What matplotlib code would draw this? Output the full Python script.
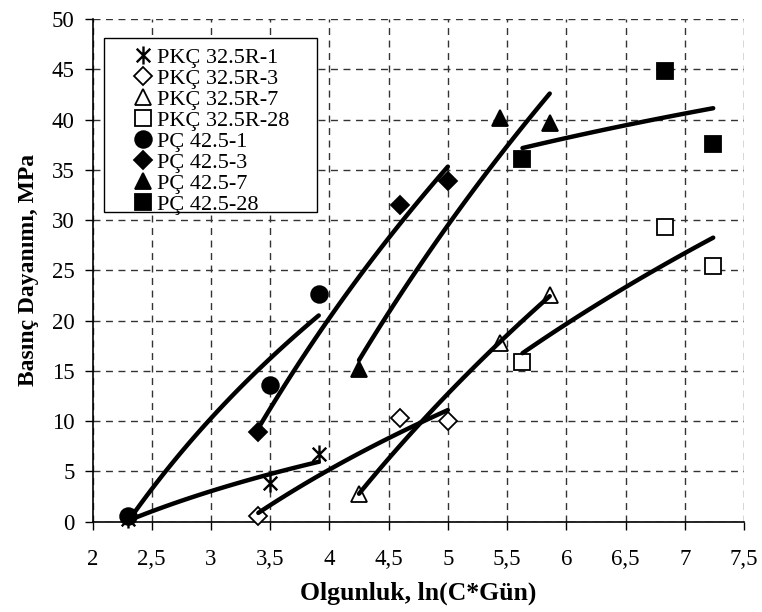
import numpy as np
import matplotlib
matplotlib.use("Agg")
import matplotlib.pyplot as plt
from matplotlib.ticker import FixedLocator, FuncFormatter
from matplotlib.patches import Rectangle
from matplotlib.path import Path

plt.rcParams['font.family'] = ['Liberation Serif', 'DejaVu Serif']

labels = ["PKÇ 32.5R-1", "PKÇ 32.5R-3", "PKÇ 32.5R-7", "PKÇ 32.5R-28",
          "PÇ 42.5-1", "PÇ 42.5-3", "PÇ 42.5-7", "PÇ 42.5-28"]

x_1 = [2.30, 3.50, 3.91]
x_3 = [3.40, 4.60, 5.00]
x_7 = [4.25, 5.44, 5.86]
x_28 = [5.63, 6.83, 7.24]

pkc_1 = [0.3, 3.8, 6.7]
pkc_3 = [0.57, 10.3, 10.0]
pkc_7 = [2.8, 17.8, 22.5]
pkc_28 = [15.9, 29.3, 25.4]

pc_1 = [0.57, 13.6, 22.6]
pc_3 = [8.9, 31.5, 33.9]
pc_7 = [15.2, 40.2, 39.7]
pc_28 = [36.1, 44.8, 37.6]

xs = [x_1, x_3, x_7, x_28, x_1, x_3, x_7, x_28]
ys = [pkc_1, pkc_3, pkc_7, pkc_28, pc_1, pc_3, pc_7, pc_28]

# Excel-style star: X plus vertical bar
star = Path([(0, -1), (0, 1), (-0.75, -0.75), (0.75, 0.75), (-0.75, 0.75), (0.75, -0.75)],
            [Path.MOVETO, Path.LINETO, Path.MOVETO, Path.LINETO, Path.MOVETO, Path.LINETO])

markers = [star, 'D', '^', 's', 'o', 'D', '^', 's']
fills = ['none', 'white', 'white', 'white', 'black', 'black', 'black', 'black']
msizes = [13, 9, 12, 12, 12, 9, 12, 12]
mews = [1.7, 1.3, 1.3, 1.3, 1.3, 1.3, 1.3, 1.3]

W, H = 762, 612
fig = plt.figure(figsize=(W/100, H/100), dpi=100)
x0p, x1p, y0p, y1p = 92.5, 744.0, 521.7, 19.0
ax = fig.add_axes([x0p/W, 1 - y0p/H, (x1p - x0p)/W, (y0p - y1p)/H])

def axfrac(px, py):
    return ((px - x0p)/(x1p - x0p), (y0p - py)/(y0p - y1p))

handles = []
for x, y, m, fc, ms, mw, lab in zip(xs, ys, markers, fills, msizes, mews, labels):
    x = np.array(x); y = np.array(y)
    h, = ax.plot(x, y, linestyle='none', marker=m, markersize=ms,
                 markerfacecolor=fc, markeredgecolor='black',
                 markeredgewidth=mw, label=lab, zorder=3, clip_on=False)
    handles.append(h)
    # logarithmic trendline
    a, b = np.polyfit(np.log(x), y, 1)
    xx = np.linspace(x.min(), x.max(), 100)
    ax.plot(xx, a*np.log(xx) + b, color='black', lw=3.2, zorder=4,
            solid_capstyle='round')

ax.set_xlim(2, 7.5)
ax.set_ylim(0, 50)
xt = np.arange(2, 7.51, 0.5)
ax.xaxis.set_major_locator(FixedLocator(xt))
ax.yaxis.set_major_locator(FixedLocator(np.arange(0, 51, 5)))

def fmt(v, pos):
    s = ('%g' % v)
    return s.replace('.', ',')
ax.xaxis.set_major_formatter(FuncFormatter(fmt))

ax.grid(True, linestyle=(0, (5, 4)), color='#333333', linewidth=1.0)
ax.set_axisbelow(True)
for sp in ['top', 'right']:
    ax.spines[sp].set_visible(False)
for sp in ['left', 'bottom']:
    ax.spines[sp].set_linewidth(1.2)
ax.tick_params(axis='both', direction='out', length=6, width=1,
               labelsize=16.5, colors='black')
ax.tick_params(axis='x', pad=14)
ax.tick_params(axis='y', pad=7)

ax.set_xlabel('Olgunluk, ln(C*Gün)', fontsize=18.5, fontweight='bold', labelpad=8)
ax.set_ylabel('Basınç Dayanımı, MPa', fontsize=17, fontweight='bold', labelpad=9)

# legend frame
fx0, fy0 = axfrac(104, 211.7)
fx1, fy1 = axfrac(317, 38.3)
ax.add_patch(Rectangle((fx0, fy0), fx1 - fx0, fy1 - fy0, transform=ax.transAxes,
                       facecolor='white', edgecolor='black', linewidth=1.0,
                       zorder=5))

leg = ax.legend(handles=handles, loc='upper left',
                bbox_to_anchor=axfrac(134.5, 47.0),
                borderaxespad=0, borderpad=0, fontsize=16, frameon=False,
                handlelength=0.8, handletextpad=0.2, labelspacing=0.02)
leg.set_zorder(6)

fig.savefig('out.png', dpi=100)
